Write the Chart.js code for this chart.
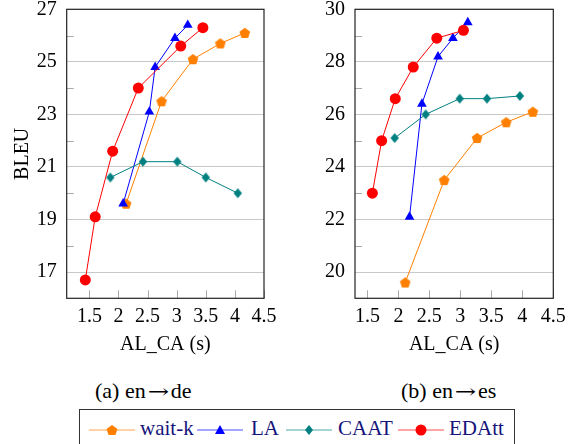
<!DOCTYPE html>
<html>
<head>
<meta charset="utf-8">
<script src="https://cdn.jsdelivr.net/npm/chart.js@4"></script>
<style>
  body { margin: 0; background: #fff; width: 575px; height: 444px; overflow: hidden; position: relative; font-family: "Liberation Serif", serif; }
  canvas { position: absolute; top: -20px; }
  #cvDe { left: 0; }
  #cvEs { left: 290px; }
  .cap { position: absolute; top: 378px; font-size: 22px; color: #000; white-space: nowrap; }
  .arr { display: inline-block; width: 25px; text-align: center; font-family: "DejaVu Serif", serif; font-size: 19px; transform: scaleX(1.35); }
  #legend { position: absolute; left: 79px; top: 409px; width: 436px; height: 50px; border: 1px solid #333; box-sizing: border-box; }
  .item { position: absolute; top: 0; height: 36px; }
  .item svg { position: absolute; top: 14px; }
  .item span { position: absolute; top: 6px; font-size: 21px; color: #14147a; white-space: nowrap; }
</style>
</head>
<body>
<canvas id="cvDe" width="290" height="390"></canvas>
<canvas id="cvEs" width="285" height="390"></canvas>
<div class="cap" style="left:95px">(a) en<span class="arr">→</span>de</div>
<div class="cap" style="left:401px">(b) en<span class="arr">→</span>es</div>
<div id="legend"></div>
<script>
// x ticks shared by both panels
const xTicks = [1.5, 2, 2.5, 3, 3.5, 4, 4.5];

// (a) en->de
const deYTicks = [17, 19, 21, 23, 25, 27];
const deYMinor = [18, 20, 22, 24, 26];
const deWaitkX = [2.13, 2.74, 3.28, 3.75, 4.17];
const deWaitkY = [19.6, 23.5, 25.1, 25.7, 26.1];
const deLaX = [2.08, 2.53, 2.63, 2.97, 3.19];
const deLaY = [19.6, 23.1, 24.8, 25.9, 26.4];
const deCaatX = [1.86, 2.42, 3.01, 3.5, 4.05];
const deCaatY = [20.6, 21.2, 21.2, 20.6, 20.0];
const deEdattX = [1.43, 1.6, 1.9, 2.34, 3.07, 3.45];
const deEdattY = [16.7, 19.1, 21.6, 24.0, 25.6, 26.3];

// (b) en->es
const esYTicks = [20, 22, 24, 26, 28, 30];
const esYMinor = [21, 23, 25, 27, 29];
const esWaitkX = [2.11, 2.74, 3.27, 3.74, 4.17];
const esWaitkY = [19.6, 23.5, 25.1, 25.7, 26.1];
const esLaX = [2.18, 2.38, 2.64, 2.88, 3.12];
const esLaY = [22.1, 26.4, 28.2, 28.9, 29.5];
const esCaatX = [1.94, 2.44, 2.99, 3.43, 3.96];
const esCaatY = [25.1, 26.0, 26.6, 26.6, 26.7];
const esEdattX = [1.58, 1.73, 1.95, 2.24, 2.62, 3.05];
const esEdattY = [23.0, 25.0, 26.6, 27.8, 28.9, 29.2];

const seriesNames = ['wait-k', 'LA', 'CAAT', 'EDAtt'];
const colors = ['#ff8000', '#0000ff', '#008080', '#ff0000'];

function markerCanvas(kind, color) {
  const c = document.createElement('canvas');
  c.width = 12; c.height = 12;
  const g = c.getContext('2d');
  g.fillStyle = color;
  g.beginPath();
  if (kind === 'pentagon') {
    for (let i = 0; i < 5; i++) {
      const a = -Math.PI / 2 + i * 2 * Math.PI / 5;
      const px = 6 + 5.6 * Math.cos(a), py = 6.4 + 5.6 * Math.sin(a);
      i ? g.lineTo(px, py) : g.moveTo(px, py);
    }
  } else {
    g.moveTo(6, 1); g.lineTo(10.2, 6); g.lineTo(6, 11); g.lineTo(1.8, 6);
  }
  g.closePath();
  g.fill();
  return c;
}
const pentagon = markerCanvas('pentagon', colors[0]);
const diamond = markerCanvas('diamond', colors[2]);

function pts(xs, ys) {
  return xs.map((x, i) => ({ x: x, y: ys[i] }));
}

function makeDatasets(wx, wy, lx, ly, cx, cy, ex, ey) {
  return [
    { label: seriesNames[0], data: pts(wx, wy), borderColor: colors[0], backgroundColor: colors[0], pointStyle: pentagon, order: 4 },
    { label: seriesNames[1], data: pts(lx, ly), borderColor: colors[1], backgroundColor: colors[1], pointStyle: 'triangle', pointRadius: 5.6, order: 3 },
    { label: seriesNames[2], data: pts(cx, cy), borderColor: colors[2], backgroundColor: colors[2], pointStyle: diamond, order: 2 },
    { label: seriesNames[3], data: pts(ex, ey), borderColor: colors[3], backgroundColor: colors[3], pointStyle: 'circle', pointRadius: 5.5, order: 1 }
  ].map(d => Object.assign({ showLine: true, borderWidth: 1, pointBorderWidth: 0, pointRadius: 5.5, tension: 0 }, d));
}

// frame, inner x tick marks and minor y ticks
const framePlugin = {
  id: 'frame',
  beforeDatasetsDraw(chart, args, opts) {
    const { ctx, chartArea: a, scales } = chart;
    ctx.save();
    ctx.strokeStyle = '#a8a8a8';
    ctx.lineWidth = 1;
    ctx.beginPath();
    xTicks.forEach(v => {
      const px = Math.round(scales.x.getPixelForValue(v)) + 0.5;
      ctx.moveTo(px, a.bottom); ctx.lineTo(px, a.bottom - 8);
    });
    opts.minor.forEach(v => {
      const py = Math.round(scales.y.getPixelForValue(v)) + 0.5;
      ctx.moveTo(a.left, py); ctx.lineTo(a.left + 7, py);
    });
    ctx.stroke();
    ctx.restore();
  },
  afterDraw(chart) {
    const { ctx, chartArea: a } = chart;
    ctx.save();
    ctx.strokeStyle = '#222';
    ctx.lineWidth = 1.2;
    ctx.strokeRect(a.left, a.top, a.right - a.left, a.bottom - a.top);
    ctx.restore();
  }
};

const tickFont = { family: '"Liberation Serif", serif', size: 20 };
const titleFont = { family: '"Liberation Serif", serif', size: 20 };

function makeChart(id, datasets, xMin, yMin, yMax, yTicks, yMinor, yWidth, padRight, showYTitle) {
  return new Chart(document.getElementById(id), {
    type: 'scatter',
    data: { datasets: datasets },
    plugins: [framePlugin],
    options: {
      responsive: false,
      devicePixelRatio: 1,
      animation: false,
      layout: { padding: { left: 0, right: padRight, top: 29.3, bottom: 13 } },
      plugins: { legend: { display: false }, tooltip: { enabled: false }, frame: { minor: yMinor } },
      scales: {
        x: {
          type: 'linear', min: xMin, max: 4.5,
          afterBuildTicks: s => { s.ticks = xTicks.map(v => ({ value: v })); },
          afterFit: s => { s.height = 58.7; },
          grid: { display: false, drawTicks: false },
          border: { display: false },
          ticks: { font: tickFont, color: '#000', padding: 6, maxRotation: 0, autoSkip: false, callback: v => String(v) },
          title: { display: true, text: 'AL_CA (s)', font: titleFont, color: '#000', padding: 0 }
        },
        y: {
          type: 'linear', min: yMin, max: yMax,
          afterBuildTicks: s => { s.ticks = yTicks.map(v => ({ value: v })); },
          afterFit: s => { s.width = yWidth; },
          grid: { color: '#c8c8c8', lineWidth: 1, drawTicks: false },
          border: { display: false },
          ticks: { font: tickFont, color: '#000', padding: 10, callback: v => String(v) },
          title: { display: showYTitle, text: 'BLEU', font: titleFont, color: '#000', padding: { top: 11, bottom: 0 } }
        }
      }
    }
  });
}

makeChart('cvDe', makeDatasets(deWaitkX, deWaitkY, deLaX, deLaY, deCaatX, deCaatY, deEdattX, deEdattY),
  1.11, 16, 27, deYTicks, deYMinor, 66.7, 26, true);
makeChart('cvEs', makeDatasets(esWaitkX, esWaitkY, esLaX, esLaY, esCaatX, esCaatY, esEdattX, esEdattY),
  1.3, 19, 30, esYTicks, esYMinor, 65, 21.7, false);

// legend built from the same names/colours
const lineLeft = [9, 117, 206, 318];
const textLeft = [60, 171, 258, 369];
const markerSvg = [
  c => `<polygon points="23,1 28.5,5 26.4,11 19.6,11 17.5,5" fill="${c}"/>`,
  c => `<polygon points="23,1 28,10 18,10" fill="${c}"/>`,
  c => `<polygon points="23,1 27,6 23,11 19,6" fill="${c}"/>`,
  c => `<circle cx="23" cy="6" r="5.5" fill="${c}"/>`
];
const legend = document.getElementById('legend');
seriesNames.forEach((name, i) => {
  const it = document.createElement('div');
  it.className = 'item';
  it.style.left = lineLeft[i] + 'px';
  it.innerHTML = `<svg width="46" height="12"><line x1="0" y1="6" x2="46" y2="6" stroke="${colors[i]}" stroke-opacity="0.7" stroke-width="1"/>${markerSvg[i](colors[i])}</svg>` +
    `<span style="left:${textLeft[i] - lineLeft[i]}px">${name}</span>`;
  legend.appendChild(it);
});
</script>
</body>
</html>
